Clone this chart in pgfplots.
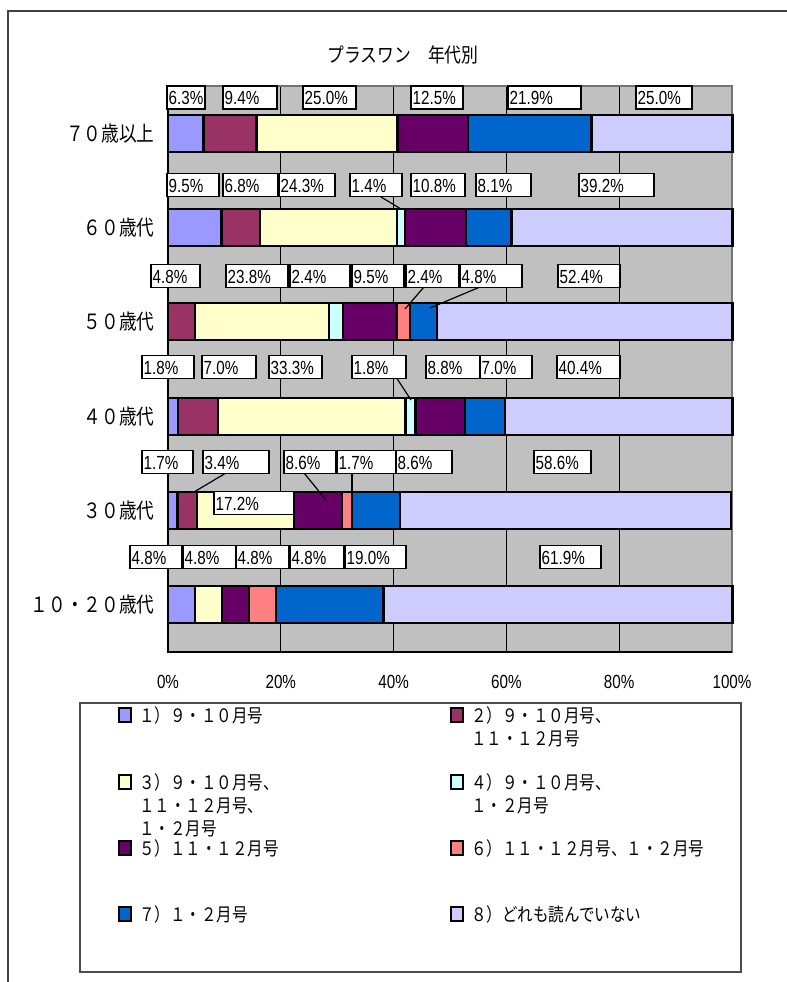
\documentclass[border=0pt]{standalone}
\usepackage{fontspec}
\setmainfont[FakeStretch=0.8]{Liberation Sans}
\newfontfamily\jp[FakeStretch=0.84]{Noto Sans CJK JP}
\usepackage{pgfplots}
\pgfplotsset{compat=1.18}

\definecolor{plotgray}{HTML}{C0C0C0}
\definecolor{cA}{HTML}{9999FF}
\definecolor{cB}{HTML}{993366}
\definecolor{cC}{HTML}{FFFFCC}
\definecolor{cD}{HTML}{CCFFFF}
\definecolor{cE}{HTML}{660066}
\definecolor{cF}{HTML}{FF8080}
\definecolor{cG}{HTML}{0066CC}
\definecolor{cH}{HTML}{CCCCFF}

\newcommand{\lbfont}{\fontsize{19bp}{21bp}\selectfont}
\newcommand{\jpfont}{\jp\fontsize{21bp}{24bp}\selectfont}
\newcommand{\ttlfont}{\jp\fontsize{20bp}{24bp}\selectfont}
\newcommand{\lgfont}{\jp\fontsize{18.5bp}{23bp}\selectfont}

% data label box: left px, right px, centre y px, text
\newcommand{\lab}[4]{%
  \draw[fill=white,line width=1.3bp] (#1,#3-11.5) rectangle (#2,#3+11.5);
  \node[anchor=base west,inner sep=0pt,font=\lbfont] at (#1+1.5,#3+7) {#4};}
% legend key
\newcommand{\key}[3]{%
  \draw[fill=#3,line width=1.8bp] (#1,#2-7) rectangle (#1+12,#2+7);}

\begin{document}
\begin{tikzpicture}
\useasboundingbox (0bp,0bp) rectangle (787bp,-982bp);

\begin{axis}[
  at={(168bp,-86bp)}, anchor=north west,
  scale only axis, width=564bp, height=566bp,
  xbar stacked, bar width=37bp,
  xmin=0, xmax=100, ymin=-0.5, ymax=5.5,
  clip=false,
  axis background/.style={fill=plotgray},
  axis line style={draw=black!55, line width=1.5bp},
  xmajorgrids, grid style={black, line width=0.8bp},
  xtick={0,20,40,60,80,100},
  xticklabels={0\%,20\%,40\%,60\%,80\%,100\%},
  ytick={0,1,2,3,4,5},
  yticklabels={１０・２０歳代,３０歳代,４０歳代,５０歳代,６０歳代,７０歳以上},
  tick align=inside, major tick length=4bp,
  xtick style={draw=black, line width=0.8bp},
  ytick style={draw=none},
  xticklabel style={font=\fontsize{19bp}{21bp}\selectfont, yshift=-20bp},
  yticklabel style={font=\jpfont, xshift=-10bp},
  every axis plot/.append style={draw=black, line width=2.2bp},
]
\addplot[fill=cA] coordinates {(4.8,0) (1.7,1) (1.8,2) (0,3) (9.5,4) (6.3,5)};
\addplot[fill=cB] coordinates {(0,0) (3.4,1) (7.0,2) (4.8,3) (6.8,4) (9.4,5)};
\addplot[fill=cC] coordinates {(4.8,0) (17.2,1) (33.3,2) (23.8,3) (24.3,4) (25.0,5)};
\addplot[fill=cD] coordinates {(0,0) (0,1) (1.8,2) (2.4,3) (1.4,4) (0,5)};
\addplot[fill=cE] coordinates {(4.8,0) (8.6,1) (8.8,2) (9.5,3) (10.8,4) (12.5,5)};
\addplot[fill=cF] coordinates {(4.8,0) (1.7,1) (0,2) (2.4,3) (0,4) (0,5)};
\addplot[fill=cG] coordinates {(19.0,0) (8.6,1) (7.0,2) (4.8,3) (8.1,4) (21.9,5)};
\addplot[fill=cH] coordinates {(61.9,0) (58.6,1) (40.4,2) (52.4,3) (39.2,4) (25.0,5)};
\draw[black, line width=1.6bp] (rel axis cs:0,1) -- (rel axis cs:0,0) -- (rel axis cs:1,0);
\end{axis}

\begin{scope}[x=1bp,y=-1bp]
\draw[line width=1.3bp,black!75] (8,982) -- (8,11) -- (787,11);
\node[font=\ttlfont] at (403,55) {プラスワン　年代別};
% 70
\lab{167}{205}{97.5}{6.3\%}
\lab{223}{277}{97.5}{9.4\%}
\lab{303}{356}{97.5}{25.0\%}
\lab{411}{463}{97.5}{12.5\%}
\lab{508}{581}{97.5}{21.9\%}
\lab{636}{692}{97.5}{25.0\%}
% 60
\draw[line width=1.2bp] (381,197) -- (401,209);
\lab{167}{219}{185}{9.5\%}
\lab{223}{278}{185}{6.8\%}
\lab{279}{335}{185}{24.3\%}
\lab{350}{402}{185}{1.4\%}
\lab{411}{465}{185}{10.8\%}
\lab{476}{531}{185}{8.1\%}
\lab{579}{654}{185}{39.2\%}
% 50
\draw[line width=1.2bp] (424,287) -- (405,309);
\draw[line width=1.2bp] (480,287) -- (430,308);
\lab{151}{200}{276}{4.8\%}
\lab{226}{288}{276}{23.8\%}
\lab{290}{350}{276}{2.4\%}
\lab{352}{404}{276}{9.5\%}
\lab{406}{459}{276}{2.4\%}
\lab{460}{522}{276}{4.8\%}
\lab{558}{620}{276}{52.4\%}
% 40
\draw[line width=1.2bp] (396,377) -- (411,400);
\lab{142}{194}{367}{1.8\%}
\lab{202}{256}{367}{7.0\%}
\lab{269}{322}{367}{33.3\%}
\lab{352}{406}{367}{1.8\%}
\lab{426}{480}{367}{8.8\%}
\lab{480}{532}{367}{7.0\%}
\lab{557}{620}{367}{40.4\%}
% 30
\draw[line width=1.2bp] (226,473) -- (194,492);
\draw[line width=1.2bp] (304,473) -- (326,500);
\draw[line width=1.2bp] (352,473) -- (352,492);
\lab{142}{193}{462}{1.7\%}
\lab{203}{269}{462}{3.4\%}
\lab{284}{336}{462}{8.6\%}
\lab{337}{396}{462}{1.7\%}
\lab{396}{452}{462}{8.6\%}
\lab{534}{591}{462}{58.6\%}
\lab{214}{294}{503}{17.2\%}
% 10-20
\lab{130}{182}{557}{4.8\%}
\lab{183}{236}{557}{4.8\%}
\lab{236}{289}{557}{4.8\%}
\lab{290}{344}{557}{4.8\%}
\lab{345}{406}{557}{19.0\%}
\lab{540}{601}{557}{61.9\%}

% legend
\draw[line width=1.3bp,black!70] (80,703) rectangle (741,972);
\key{119}{715}{cA}
\key{119}{782}{cC}
\key{119}{848}{cE}
\key{119}{914}{cG}
\key{451}{715}{cB}
\key{451}{782}{cD}
\key{451}{848}{cF}
\key{451}{914}{cH}
\begin{scope}[every node/.style={anchor=base west,inner sep=0pt,font=\lgfont}]
\node at (139,722) {１）９・１０月号};
\node at (139,789) {３）９・１０月号、};
\node at (139,812) {１１・１２月号、};
\node at (139,835) {１・２月号};
\node at (139,855) {５）１１・１２月号};
\node at (139,921) {７）１・２月号};
\node at (471,722) {２）９・１０月号、};
\node at (471,745) {１１・１２月号};
\node at (471,789) {４）９・１０月号、};
\node at (471,812) {１・２月号};
\node at (471,855) {６）１１・１２月号、１・２月号};
\node at (471,921) {８）どれも読んでいない};
\end{scope}
\end{scope}
\end{tikzpicture}
\end{document}
